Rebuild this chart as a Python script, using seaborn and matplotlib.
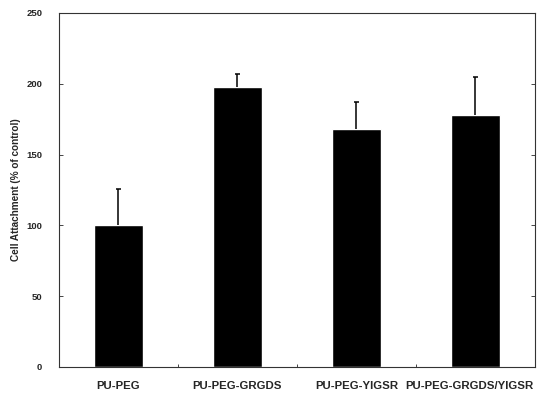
import numpy as np
import pandas as pd
import matplotlib
matplotlib.use("Agg")
import matplotlib.pyplot as plt
import matplotlib.transforms as mtransforms
import seaborn as sns

# veri
groups = ["PU-PEG", "PU-PEG-GRGDS", "PU-PEG-YIGSR", "PU-PEG-GRGDS/YIGSR"]
attachment = [100, 198, 168, 178]
err_upper = [26, 9, 19, 27]

sns.set_style("ticks")
plt.rcParams['font.family'] = ['Liberation Sans', 'DejaVu Sans']
plt.rcParams['font.weight'] = 'bold'

df = pd.DataFrame({"group": groups, "value": attachment})

fig = plt.figure(figsize=(5.37, 3.94), dpi=100)
ax = fig.add_axes([59 / 537, 1 - 367 / 394, 476 / 537, 354 / 394])

sns.barplot(data=df, x="group", y="value", color="black", width=0.41,
            saturation=1, errorbar=None, ax=ax)

# sadece yukari hata cubuklari
x = np.arange(len(groups))
tops = np.array(attachment) + np.array(err_upper)
ax.vlines(x, attachment, tops, color='black', linewidth=1.1)
ax.hlines(tops, x - 0.02, x + 0.02, color='black', linewidth=1.1)

ax.set_xlim(-0.5, len(groups) - 0.5)
ax.set_ylim(0, 250)
ax.set_yticks([0, 50, 100, 150, 200, 250])
ax.set_xlabel("")
ax.set_ylabel("Cell Attachment (% of control)", fontsize=7.2, fontweight='bold', labelpad=4)

ax.tick_params(axis='y', direction='in', length=3, labelsize=6.8, right=True, width=0.6, pad=12)
ax.tick_params(axis='x', which='major', length=0, labelsize=8.2, pad=10)
ax.set_xticks([0.5, 1.5, 2.5], minor=True)
ax.tick_params(axis='x', which='minor', direction='in', length=2, width=0.6)
for lab in ax.get_xticklabels() + ax.get_yticklabels():
    lab.set_fontweight('bold')

# son etiket sag kenara tasmasin
last = ax.get_xticklabels()[-1]
last.set_transform(last.get_transform() + mtransforms.ScaledTranslation(-6 / 100, 0, fig.dpi_scale_trans))

for sp in ax.spines.values():
    sp.set_visible(True)
    sp.set_linewidth(0.8)
    sp.set_color('#333333')

plt.savefig("out.png", dpi=100)
plt.close()
